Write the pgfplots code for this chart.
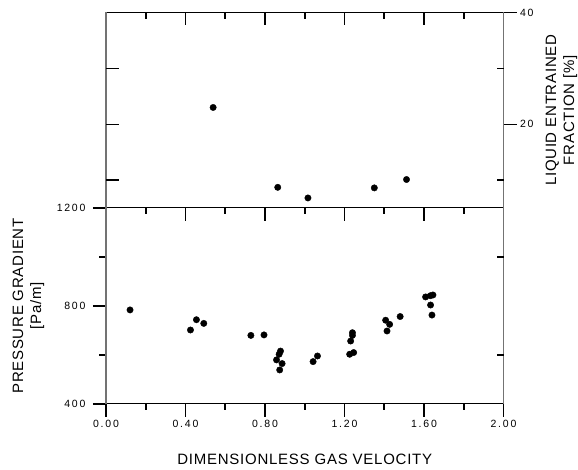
\documentclass[border=0pt]{standalone}
\usepackage{fontspec}
\setmainfont{Liberation Sans}
\newfontfamily\tickfont[LetterSpace=17]{Liberation Sans}
\newfontfamily\labfont[LetterSpace=5]{Liberation Sans}
\usepackage{pgfplots}
\pgfplotsset{compat=1.18}

\tikzset{tickline/.style={black, line width=1.2pt},
         xtickline/.style={black, line width=1.6pt}}

\pgfplotsset{
  panel/.style={
    scale only axis, width=397.5pt,
    xmin=0, xmax=2,
    major tick length=13pt, minor tick length=6.5pt,
    tick style={tickline},
    xtick style={draw=none},
    separate axis lines,
    x axis line style={black, line width=1pt},
    y axis line style={black!55, line width=1.2pt},
    tick label style={font=\tickfont\fontsize{10.5}{12}\selectfont},
    label style={font=\labfont\fontsize{15}{18}\selectfont, align=center},
    /pgf/number format/assume math mode=true,
    /pgf/number format/1000 sep={},
  },
  ghost/.style={
    scale only axis, width=397.5pt,
    xmin=0, xmax=2,
    tick style={tickline},
    axis line style={draw=none},
    axis x line=none,
    xticklabels={}, yticklabels={},
    tick align=inside,
  },
  % x tick marks as short segments in an axis whose y unit is 1pt
  tickframe/.style={
    scale only axis, width=397.5pt, xmin=0, xmax=2,
    hide axis, clip=false,
  },
  dots/.style={only marks, mark=*, mark size=3.2pt, black, mark options={fill=black}},
}

\begin{document}
\begin{tikzpicture}
\useasboundingbox (-106pt,-66pt) rectangle (472pt,404pt);

% lower panel: pressure gradient
\begin{axis}[panel, at={(0,0)}, anchor=south west, height=196pt,
  ymin=400, ymax=1200,
  xtick={0,0.4,0.8,1.2,1.6,2},
  ytick={400,800,1200}, minor ytick={600,1000},
  xtick pos=bottom, ytick pos=left, tick align=outside,
  xticklabel style={/pgf/number format/fixed, /pgf/number format/fixed zerofill,
    /pgf/number format/precision=2},
  yticklabel style={xshift=-4pt},
  xlabel={DIMENSIONLESS GAS VELOCITY},
  xlabel style={at={(axis description cs:0.5,0)}, anchor=base, yshift=-61pt},
  ylabel={PRESSURE GRADIENT\\{[Pa/m]}},
  ylabel style={at={(axis description cs:-0.195,0.5)}, anchor=center},
]
\addplot[dots] coordinates {
(0.121,784) (0.425,702) (0.455,744) (0.492,729)
(0.729,680) (0.795,682)
(0.878,616) (0.871,603) (0.858,580) (0.886,565) (0.874,539)
(1.042,573) (1.064,596)
(1.226,603) (1.246,610) (1.231,657) (1.240,680) (1.240,691)
(1.407,742) (1.427,725) (1.414,698) (1.480,757)
(1.608,837) (1.632,842) (1.645,845) (1.633,804) (1.640,763)
};
\end{axis}

% x ticks of the lower panel: outward below, inward from the top edge
\begin{axis}[tickframe, at={(0,0)}, anchor=south west, height=196pt,
  ymin=0, ymax=196]
\addplot[xtickline, unbounded coords=jump, forget plot] coordinates {
(0,0) (0,-13) (0,nan) (0.4,0) (0.4,-13) (0.4,nan) (0.8,0) (0.8,-13) (0.8,nan)
(1.2,0) (1.2,-13) (1.2,nan) (1.6,0) (1.6,-13) (1.6,nan) (2,0) (2,-13) (2,nan)
(0.2,0) (0.2,-6.5) (0.2,nan) (0.6,0) (0.6,-6.5) (0.6,nan) (1,0) (1,-6.5) (1,nan)
(1.4,0) (1.4,-6.5) (1.4,nan) (1.8,0) (1.8,-6.5) (1.8,nan)
(0.4,196) (0.4,183) (0.4,nan) (0.8,196) (0.8,183) (0.8,nan)
(1.2,196) (1.2,183) (1.2,nan) (1.6,196) (1.6,183) (1.6,nan)
(0.2,196) (0.2,189.5) (0.2,nan) (0.6,196) (0.6,189.5) (0.6,nan)
(1,196) (1,189.5) (1,nan) (1.4,196) (1.4,189.5) (1.4,nan)
(1.8,196) (1.8,189.5)
};
\end{axis}

% short inward ticks on the right edge of the lower panel
\begin{axis}[ghost, at={(0,0)}, anchor=south west, height=196pt,
  ymin=400, ymax=1200,
  axis y line*=right,
  ytick={600,1000}, major tick length=6.5pt]
\end{axis}

% upper panel: liquid entrained fraction
\begin{axis}[panel, at={(0,196pt)}, anchor=south west, height=195.5pt,
  ymin=5, ymax=40,
  xtick=\empty, ytick={20,40},
  ytick pos=right, yticklabel pos=right, tick align=outside,
  ylabel={LIQUID ENTRAINED\\FRACTION [\%]},
  ylabel style={at={(axis description cs:1.146,0.5)}, anchor=center},
]
\addplot[dots] coordinates {
(0.539,23.0) (0.864,8.7) (1.016,6.8) (1.350,8.6) (1.512,10.1)
};
\end{axis}

% x ticks hanging from the top edge of the upper panel
\begin{axis}[tickframe, at={(0,196pt)}, anchor=south west, height=195.5pt,
  ymin=0, ymax=195.5]
\addplot[xtickline, unbounded coords=jump, forget plot] coordinates {
(0.4,195.5) (0.4,182.5) (0.4,nan) (0.8,195.5) (0.8,182.5) (0.8,nan)
(1.2,195.5) (1.2,182.5) (1.2,nan) (1.6,195.5) (1.6,182.5) (1.6,nan)
(0.2,195.5) (0.2,189) (0.2,nan) (0.6,195.5) (0.6,189) (0.6,nan)
(1,195.5) (1,189) (1,nan) (1.4,195.5) (1.4,189) (1.4,nan)
(1.8,195.5) (1.8,189)
};
\end{axis}

\begin{axis}[ghost, at={(0,196pt)}, anchor=south west, height=195.5pt,
  ymin=5, ymax=40,
  axis y line*=left,
  ytick={10,20,30}, major tick length=13pt]
\end{axis}
\begin{axis}[ghost, at={(0,196pt)}, anchor=south west, height=195.5pt,
  ymin=5, ymax=40,
  axis y line*=right,
  ytick={10,30}, major tick length=6.5pt]
\end{axis}

\end{tikzpicture}
\end{document}
